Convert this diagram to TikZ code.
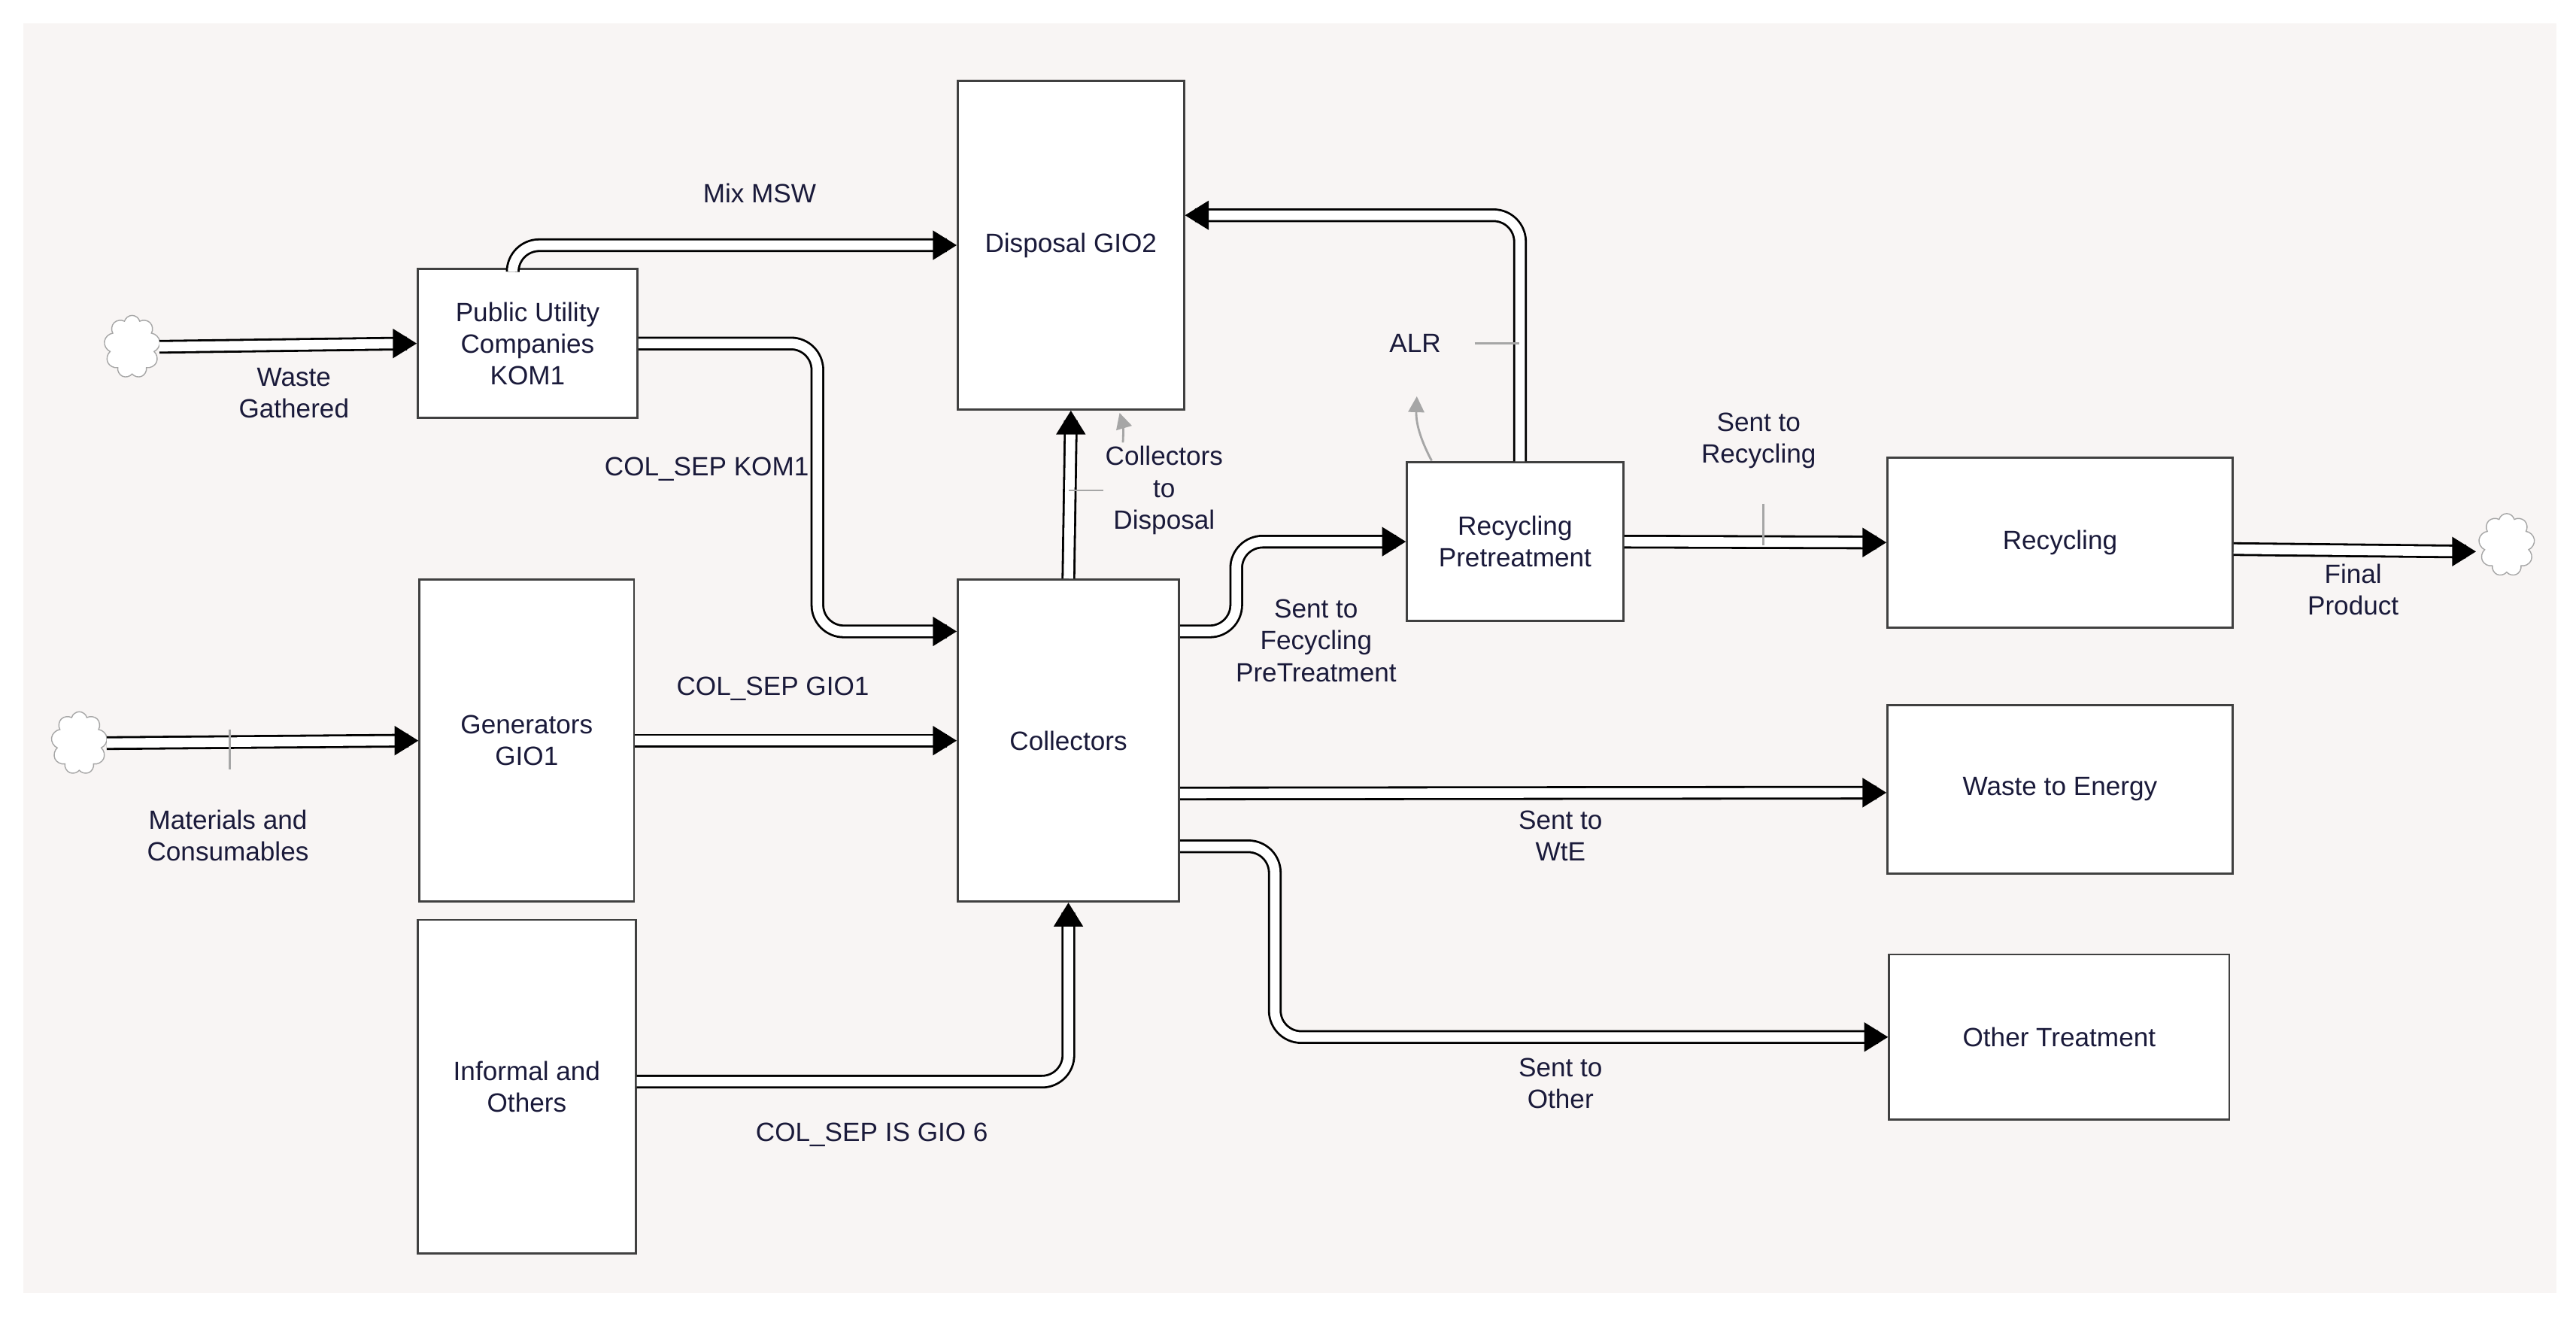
\documentclass[tikz,border=0pt]{standalone}
\usepackage{fontspec}
\setmainfont{Liberation Sans}
\usetikzlibrary{shapes.symbols,arrows.meta,calc}
\definecolor{bg}{HTML}{F8F5F4}
\definecolor{txt}{HTML}{1A1A3A}
\def\u{0.02196cm}
\begin{document}
\begin{tikzpicture}[x=0.02196cm,y=-0.02196cm,
  font=\fontsize{10}{12}\selectfont,
  box/.style={draw=black!75,line width=0.8pt,fill=white,align=center,text=txt},
  lab/.style={align=center,text=txt,inner sep=0pt},
  pipe/.style={draw=black,double=white,double distance=3.6pt,line width=0.8pt,rounded corners=10pt},
  tip/.style={line width=0.8pt,-{Triangle[length=9pt,width=11pt]}},
  cl/.style={cloud,cloud puffs=9,draw=black!35,fill=white,minimum width=34*\u,minimum height=38*\u,inner sep=0pt,aspect=0.9},
  gr/.style={draw=black!35,line width=0.8pt}]
\useasboundingbox (0,0) rectangle (1560,797.5);
\fill[white] (0,0) rectangle (1560,797.5);
\fill[bg] (14,14) rectangle (1548,783);

\node[box,minimum width=133*\u,minimum height=90*\u] (puc) at (319.5,208) {Public Utility\\Companies\\KOM1};
\node[box,minimum width=137*\u,minimum height=199*\u] (disp) at (648.5,148.5) {Disposal GIO2};
\node[box,minimum width=130*\u,minimum height=195*\u] (gen) at (319,448.5) {Generators\\GIO1};
\node[box,minimum width=132*\u,minimum height=202*\u] (inf) at (319,658) {Informal and\\Others};
\node[box,minimum width=134*\u,minimum height=195*\u] (col) at (647,448.5) {Collectors};
\node[box,minimum width=131*\u,minimum height=96*\u] (rp) at (917.5,328) {Recycling\\Pretreatment};
\node[box,minimum width=209*\u,minimum height=103*\u] (rec) at (1247.5,328.5) {Recycling};
\node[box,minimum width=209*\u,minimum height=102*\u] (wte) at (1247.5,478) {Waste to Energy};
\node[box,minimum width=206*\u,minimum height=100*\u] (oth) at (1247,628) {Other Treatment};

\node[cl] (c1) at (80,210) {};
\node[cl] (c2) at (48,450) {};
\node[cl] (c3) at (1518,330) {};

% pipes
\draw[pipe] (c1.east) -- ($(puc.west)+(-6,0)$);
\draw[tip] ($(puc.west)+(-12,0)$) -- (puc.west);
\node[lab] at (178,238) {Waste\\Gathered};

\draw[pipe] ($(puc.north)+(-9,0)$) |- ($(disp.west)+(-6,0)$);
\draw[tip] ($(disp.west)+(-12,0)$) -- (disp.west);
\node[lab] at (460,117) {Mix MSW};

\draw[pipe] (puc.east) -| (495,300) |- ($(col.north west)+(-6,32)$);
\draw[tip] ($(col.north west)+(-12,32)$) -- ($(col.north west)+(0,32)$);
\node[lab] at (428,284) {COL\_SEP KOM1};

\draw[pipe] (c2.east) -- ($(gen.west)+(-6,0)$);
\draw[tip] ($(gen.west)+(-12,0)$) -- (gen.west);
\draw[gr] (139,442) -- (139,466);
\node[lab] at (138,506) {Materials and\\Consumables};

\draw[pipe] (gen.east) -- ($(col.west)+(-6,0)$);
\draw[tip] ($(col.west)+(-12,0)$) -- (col.west);
\node[lab] at (468,417) {COL\_SEP GIO1};

\draw[pipe] ($(inf.east)+(0,-3)$) -| ($(col.south)+(0,6)$);
\draw[tip] ($(col.south)+(0,12)$) -- (col.south);
\node[lab] at (528,687) {COL\_SEP IS GIO 6};

\draw[pipe] (col.north) -- ($(disp.south)+(0,6)$);
\draw[tip] ($(disp.south)+(0,12)$) -- (disp.south);
\draw[gr] (647,297) -- (668,297);
\draw[gr,-{Triangle[length=6pt,width=6pt]}] (680,268) to[bend right=10] (678,250);
\node[lab] at (705,297) {Collectors\\to\\Disposal};

\draw[pipe] ($(col.north east)+(0,32)$) -- ++(34,0) |- ($(rp.west)+(-6,0)$);
\draw[tip] ($(rp.west)+(-12,0)$) -- (rp.west);
\node[lab] at (797,388) {Sent to\\Fecycling\\PreTreatment};

\draw[pipe] ($(rp.north)+(3,0)$) |- ($(disp.north east)+(6,82)$);
\draw[tip] ($(disp.north east)+(12,82)$) -- ($(disp.north east)+(0,82)$);
\draw[gr] (893,208) -- (920,208);
\draw[gr,-{Triangle[length=6pt,width=6pt]}] (867,279) to[bend left=15] (858,240);
\node[lab] at (857,208) {ALR};

\draw[pipe] (rp.east) -- ($(rec.west)+(-6,0)$);
\draw[tip] ($(rec.west)+(-12,0)$) -- (rec.west);
\draw[gr] (1068,305) -- (1068,330);
\node[lab] at (1065,267) {Sent to\\Recycling};

\draw[pipe] ($(rec.east)+(0,4)$) -- ($(c3.west)+(-8,4)$);
\draw[tip] ($(c3.west)+(-16,4)$) -- ($(c3.west)+(-2,4)$);
\node[lab] at (1425,357) {Final\\Product};

\draw[pipe] ($(col.east)+(0,32)$) -- ($(wte.west)+(-6,2)$);
\draw[tip] ($(wte.west)+(-12,2)$) -- ($(wte.west)+(0,2)$);
\node[lab] at (945,506) {Sent to\\WtE};

\draw[pipe] ($(col.east)+(0,64)$) -| (772,570) |- ($(oth.west)+(-6,0)$);
\draw[tip] ($(oth.west)+(-12,0)$) -- (oth.west);
\node[lab] at (945,656) {Sent to\\Other};
\end{tikzpicture}
\end{document}
